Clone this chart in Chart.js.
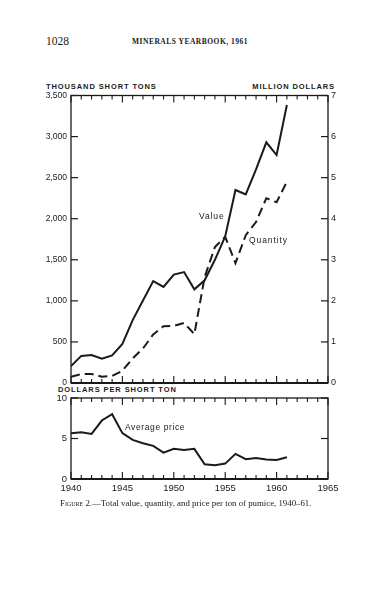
<!DOCTYPE html>
<html>
<head>
<meta charset="utf-8">
<script src="https://cdn.jsdelivr.net/npm/chart.js@4"></script>
<style>
  html, body { margin: 0; padding: 0; background: #fff; }
  body { width: 375px; height: 600px; position: relative; overflow: hidden; color: #1a1a1a; }
  .t { position: absolute; white-space: nowrap; line-height: 1; }
  .serif { font-family: "Liberation Serif", "DejaVu Serif", serif; }
  .sans { font-family: "Liberation Sans", "DejaVu Sans", sans-serif; }
  .head { font-weight: bold; font-size: 7.5px; letter-spacing: 0.9px; }
  .note { font-size: 8.5px; letter-spacing: 0.9px; }
  .box { position: absolute; left: 0; width: 375px; }
</style>
</head>
<body>

<div class="t serif" style="left:46px; top:36px; font-size:11.5px;">1028</div>
<div class="t serif" style="left:132px; top:38px; font-size:7.5px; font-weight:bold; letter-spacing:0.5px;">MINERALS YEARBOOK, 1961</div>

<div class="t sans head" style="left:46px; top:83px;">THOUSAND SHORT TONS</div>
<div class="t sans head" style="right:40px; top:83px;">MILLION DOLLARS</div>
<div class="t sans head" style="left:58px; top:386px;">DOLLARS PER SHORT TON</div>

<div class="box" style="top:80px; height:315px;"><canvas id="topChart" width="375" height="315"></canvas></div>
<div class="box" style="top:385px; height:120px;"><canvas id="priceChart" width="375" height="120"></canvas></div>

<div class="t sans note" style="left:199px; top:212px;">Value</div>
<div class="t sans note" style="left:249px; top:236px;">Quantity</div>
<div class="t sans note" style="left:125px; top:423px; letter-spacing:0.6px;">Average price</div>

<div class="t serif" style="left:60px; top:499px; font-size:8.8px;"><span style="font-variant:small-caps;">Figure 2.</span>—Total value, quantity, and price per ton of pumice, 1940–61.</div>

<script>
// --- data ---
const YEARS = [1940,1941,1942,1943,1944,1945,1946,1947,1948,1949,1950,
               1951,1952,1953,1954,1955,1956,1957,1958,1959,1960,1961];
// thousand short tons
const QUANTITY = [77,109,110,77,85,150,300,421,591,692,696,
                  732,595,1290,1655,1780,1459,1800,1960,2250,2200,2450];
// million dollars
const VALUE = [0.41,0.66,0.68,0.59,0.67,0.95,1.53,2.01,2.48,2.34,2.64,
               2.70,2.28,2.50,3.00,3.57,4.70,4.59,5.20,5.86,5.55,6.77];
// dollars per short ton
const PRICE = [5.66,5.78,5.57,7.22,8.00,5.66,4.83,4.42,4.09,3.26,3.72,
               3.59,3.72,1.82,1.69,1.90,3.10,2.44,2.60,2.40,2.35,2.69];

const X_MIN = 1940, X_MAX = 1965;
const INK = '#1a1a1a';
const TICK_FONT = { family: '"Liberation Sans", "DejaVu Sans", sans-serif', size: 8.5 };

const pts = (ys) => YEARS.map((yr, i) => ({ x: yr, y: ys[i] }));

// frame + inward tick marks, positions taken from the scales
const frameTicks = {
  id: 'frameTicks',
  afterDraw(chart, args, opts) {
    const { ctx, chartArea: a, scales } = chart;
    const line = (x1, y1, x2, y2) => { ctx.beginPath(); ctx.moveTo(x1, y1); ctx.lineTo(x2, y2); ctx.stroke(); };
    ctx.save();
    ctx.strokeStyle = INK;
    ctx.lineWidth = 1.3;
    ctx.strokeRect(a.left, a.top, a.right - a.left, a.bottom - a.top);
    ctx.lineWidth = 2.2;
    line(a.left, a.bottom, a.right, a.bottom);
    ctx.lineWidth = 1.1;
    for (let yr = X_MIN; yr <= X_MAX; yr++) {
      const px = scales.x.getPixelForValue(yr);
      const len = yr % 5 === 0 ? 7 : 4;
      line(px, a.top, px, a.top + len);
      line(px, a.bottom, px, a.bottom - len);
    }
    ctx.lineWidth = 1.2;
    if (opts.left) {
      scales[opts.left].ticks.forEach(t => {
        const py = scales[opts.left].getPixelForValue(t.value);
        line(a.left, py, a.left + 7, py);
        if (opts.mirror) line(a.right, py, a.right - 7, py);
      });
    }
    if (opts.right) {
      scales[opts.right].ticks.forEach(t => {
        const py = scales[opts.right].getPixelForValue(t.value);
        line(a.right, py, a.right - 7, py);
      });
    }
    ctx.restore();
  }
};

const xScale = (showLabels) => ({
  type: 'linear', min: X_MIN, max: X_MAX,
  display: showLabels,
  grid: { display: false, drawTicks: false },
  border: { display: false },
  ticks: { stepSize: 5, color: INK, font: { ...TICK_FONT, size: 9.5 }, padding: 4,
           callback: v => String(v) },
  afterFit: s => { if (showLabels) s.height = 26; }
});

new Chart(document.getElementById('topChart'), {
  type: 'line',
  data: {
    datasets: [
      { label: 'Value', data: pts(VALUE), yAxisID: 'yV',
        borderColor: INK, borderWidth: 2, pointRadius: 0, tension: 0 },
      { label: 'Quantity', data: pts(QUANTITY), yAxisID: 'yQ',
        borderColor: INK, borderWidth: 2, borderDash: [9, 5], pointRadius: 0, tension: 0 }
    ]
  },
  options: {
    responsive: false,
    animation: false,
    layout: { padding: { top: 15.5, bottom: 12, left: 0, right: 0 } },
    plugins: { legend: { display: false }, tooltip: { enabled: false },
               frameTicks: { left: 'yQ', right: 'yV' } },
    scales: {
      x: xScale(false),
      yQ: {
        position: 'left', min: 0, max: 3500,
        grid: { display: false, drawTicks: false }, border: { display: false },
        ticks: { stepSize: 500, color: INK, font: TICK_FONT, padding: 4,
                 callback: v => v.toLocaleString('en-US') },
        afterFit: s => { s.width = 71; }
      },
      yV: {
        position: 'right', min: 0, max: 7,
        grid: { display: false, drawTicks: false }, border: { display: false },
        ticks: { stepSize: 1, color: INK, font: { ...TICK_FONT, size: 9 }, padding: 3 },
        afterFit: s => { s.width = 47; }
      }
    }
  },
  plugins: [frameTicks]
});

new Chart(document.getElementById('priceChart'), {
  type: 'line',
  data: {
    datasets: [
      { label: 'Average price', data: pts(PRICE), yAxisID: 'yP',
        borderColor: INK, borderWidth: 2, pointRadius: 0, tension: 0 }
    ]
  },
  options: {
    responsive: false,
    animation: false,
    layout: { padding: { top: 13, bottom: 0, left: 0, right: 47 } },
    plugins: { legend: { display: false }, tooltip: { enabled: false },
               frameTicks: { left: 'yP', mirror: true } },
    scales: {
      x: xScale(true),
      yP: {
        position: 'left', min: 0, max: 10,
        grid: { display: false, drawTicks: false }, border: { display: false },
        ticks: { stepSize: 5, color: INK, font: { ...TICK_FONT, size: 9.5 }, padding: 4 },
        afterFit: s => { s.width = 71; }
      }
    }
  },
  plugins: [frameTicks]
});
</script>
</body>
</html>
